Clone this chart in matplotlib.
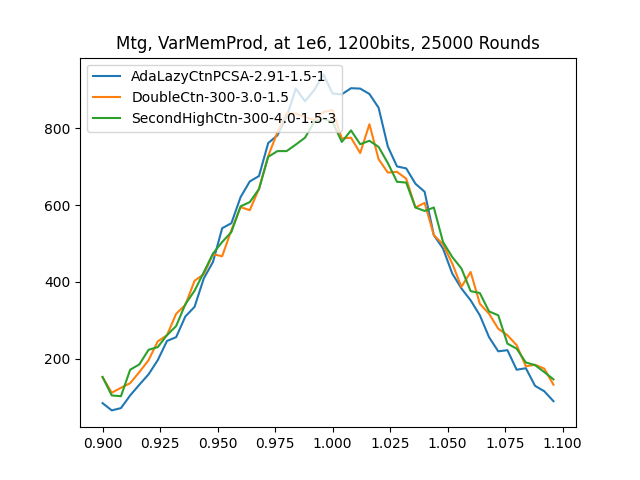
import matplotlib
matplotlib.use("Agg")
import matplotlib.pyplot as plt


# x grid (step 0.004)
x_vals = [
    0.900, 0.904, 0.908, 0.912, 0.916, 0.920, 0.924, 0.928, 0.932, 0.936,
    0.940, 0.944, 0.948, 0.952, 0.956, 0.960, 0.964, 0.968, 0.972, 0.976,
    0.980, 0.984, 0.988, 0.992, 0.996, 1.000, 1.004, 1.008, 1.012, 1.016,
    1.020, 1.024, 1.028, 1.032, 1.036, 1.040, 1.044, 1.048, 1.052, 1.056,
    1.060, 1.064, 1.068, 1.072, 1.076, 1.080, 1.084, 1.088, 1.092, 1.096,
]

ada_lazy = [
    84, 65, 71, 104, 132, 159, 196, 246, 256, 310,
    335, 409, 452, 540, 553, 621, 662, 676, 762, 782,
    830, 904, 871, 900, 941, 891, 889, 905, 904, 890,
    854, 753, 701, 696, 656, 635, 522, 487, 422, 383,
    352, 313, 256, 219, 222, 171, 175, 129, 115, 89,
]

double_ctn = [
    152, 111, 124, 136, 165, 196, 245, 261, 317, 340,
    403, 420, 472, 467, 535, 595, 587, 643, 728, 790,
    839, 839, 830, 822, 843, 848, 774, 776, 736, 811,
    720, 685, 687, 669, 594, 606, 522, 498, 448, 387,
    426, 343, 317, 278, 261, 235, 180, 184, 174, 132,
]

second_high = [
    152, 104, 102, 171, 185, 223, 230, 261, 285, 342,
    377, 425, 474, 504, 530, 597, 608, 642, 726, 741,
    741, 758, 776, 817, 826, 817, 765, 795, 759, 768,
    752, 710, 661, 659, 594, 585, 594, 504, 465, 435,
    376, 371, 323, 313, 239, 226, 190, 183, 165, 146,
]

labels = [
    "AdaLazyCtnPCSA-2.91-1.5-1",
    "DoubleCtn-300-3.0-1.5",
    "SecondHighCtn-300-4.0-1.5-3",
]

fig, ax = plt.subplots(figsize=(6.4, 4.8), dpi=100)

ax.plot(x_vals, ada_lazy, label=labels[0])
ax.plot(x_vals, double_ctn, label=labels[1])
ax.plot(x_vals, second_high, label=labels[2])

ax.set_title("Mtg, VarMemProd, at 1e6, 1200bits, 25000 Rounds")
ax.legend(loc="upper left")

fig.savefig("out.png", dpi=100)
